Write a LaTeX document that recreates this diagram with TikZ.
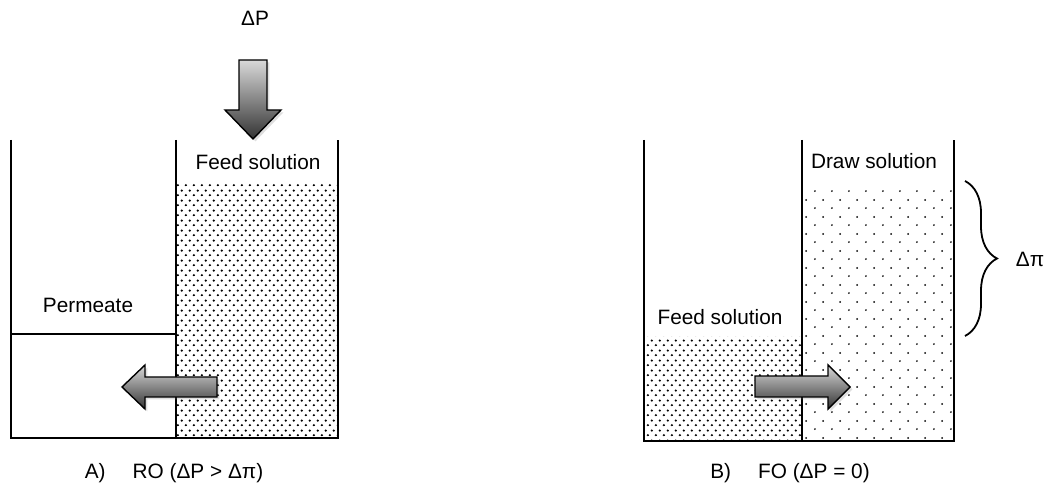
\documentclass[tikz,border=0pt]{standalone}
\usepackage{fontspec}
\setmainfont{Liberation Sans}
\usetikzlibrary{patterns,shadows,decorations.pathreplacing}

\pgfdeclarepatternformonly{finedots}{\pgfpointorigin}{\pgfqpoint{4.2pt}{5pt}}{\pgfqpoint{4.2pt}{5pt}}{%
  \pgfpathcircle{\pgfqpoint{1pt}{1pt}}{0.65pt}%
  \pgfpathcircle{\pgfqpoint{3.1pt}{3.5pt}}{0.65pt}%
  \pgfusepath{fill}}
\pgfdeclarepatternformonly{sparsedots}{\pgfpointorigin}{\pgfqpoint{8.3pt}{8.3pt}}{\pgfqpoint{8.3pt}{8.3pt}}{%
  \pgfpathcircle{\pgfqpoint{1pt}{1pt}}{0.5pt}%
  \pgfpathcircle{\pgfqpoint{5.15pt}{5.15pt}}{0.5pt}%
  \pgfusepath{fill}}

\tikzset{
  wall/.style={line width=1.4pt},
  lbl/.style={font=\fontsize{10.4}{12.5}\selectfont},
  blockarrow/.style={draw=black, line width=0.7pt, top color=gray!30, bottom color=black!80,
    drop shadow={opacity=0.25, shadow xshift=1.2pt, shadow yshift=-1.2pt}},
}

\begin{document}
\begin{tikzpicture}[x=0.5pt,y=0.5pt]
    \useasboundingbox (0,0) rectangle (1047,497);
    % solutions
    \fill[pattern=finedots] (176,59) rectangle (338,313);
    \fill[pattern=finedots] (644,56) rectangle (802,160);
    \fill[pattern=sparsedots] (802,56) rectangle (954,310);
    % A) RO cell
    \draw[wall] (11,357) -- (11,59) -- (338,59) -- (338,357);
    \draw[wall] (176,357) -- (176,59);
    \draw[wall] (11,163) -- (176,163);
    % B) FO cell
    \draw[wall] (644,357) -- (644,56) -- (954,56) -- (954,357);
    \draw[wall] (802,357) -- (802,56);
    % block arrows
    \draw[blockarrow] (239,437) -- (267,437) -- (267,387) -- (281,387) -- (253,358) -- (225,387) -- (239,387) -- cycle;
    \draw[blockarrow] (217,120) -- (145,120) -- (145,132) -- (122,110) -- (145,88) -- (145,100) -- (217,100) -- cycle;
    \draw[blockarrow] (755,121) -- (828,121) -- (828,132) -- (850,110) -- (828,88) -- (828,100) -- (755,100) -- cycle;
    % brace
    \draw[line width=0.9pt, decorate, decoration={brace, amplitude=16pt}] (965,316) -- (965,161);
    % labels
    \node[lbl] (dP) at (255,479) {ΔP};
    \node[lbl] (feedA) at (258,335) {Feed solution};
    \node[lbl] (permeate) at (88,192) {Permeate};
    \node[lbl] (drawsol) at (874,336) {Draw solution};
    \node[lbl] (feedB) at (720,180) {Feed solution};
    \node[lbl] (dpi) at (1030,238) {Δπ};
    \node[lbl] (capA) at (174,24) {A)\hskip1.3em RO (ΔP > Δπ)};
    \node[lbl] (capB) at (790,24) {B)\hskip1.3em FO (ΔP = 0)};
\end{tikzpicture}
\end{document}
